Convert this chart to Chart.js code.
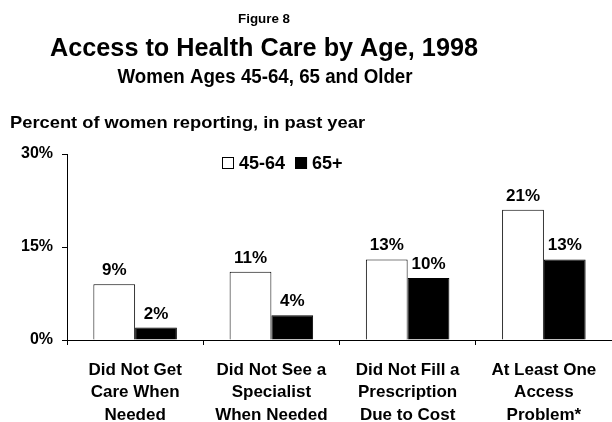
<!DOCTYPE html>
<html>
<head>
<meta charset="utf-8">
<script src="https://cdn.jsdelivr.net/npm/chart.js@4/dist/chart.umd.min.js"></script>
<style>
  html, body { margin: 0; padding: 0; background: #fff; }
  #wrap { width: 612px; height: 422px; position: relative; }
</style>
</head>
<body>
<div id="wrap"><canvas id="chart" width="612" height="422"></canvas></div>
<script>
// Access to health care by age group
const categories = [
    ['Did Not Get', 'Care When', 'Needed'],
    ['Did Not See a', 'Specialist', 'When Needed'],
    ['Did Not Fill a', 'Prescription', 'Due to Cost'],
    ['At Least One', 'Access', 'Problem*']
];
const seriesLabels = ['45-64', '65+'];
const ages45to64 = [9, 11, 13, 21];
const ages65plus = [2, 4, 10, 13];
const yTicks = [0, 15, 30];

const FONT = '"Liberation Sans", Arial, sans-serif';

// draw text squeezed horizontally to a set width (condensed look)
function fitText(ctx, text, cx, y, size, width, align) {
    ctx.font = 'bold ' + size + 'px ' + FONT;
    const w = ctx.measureText(text).width;
    const k = width / w;
    ctx.save();
    ctx.translate(cx, y);
    ctx.scale(k, 1);
    ctx.textAlign = align || 'center';
    ctx.fillText(text, 0, 0);
    ctx.restore();
}

// Header text and the axis note above the plot
const headerPlugin = {
    id: 'header',
    afterDraw(chart) {
        const ctx = chart.ctx;
        ctx.save();
        ctx.fillStyle = '#000';
        ctx.textBaseline = 'alphabetic';
        fitText(ctx, 'Figure 8', 264, 23, 13, 52);
        fitText(ctx, 'Access to Health Care by Age, 1998', 264, 56, 25, 428);
        fitText(ctx, 'Women Ages 45-64, 65 and Older', 265, 83, 20, 295);
        fitText(ctx, 'Percent of women reporting, in past year', 10, 128, 17, 355, 'left');
        ctx.restore();
    }
};

// Legend row drawn from the dataset styles
const legendPlugin = {
    id: 'boxLegend',
    afterDraw(chart) {
        const ctx = chart.ctx;
        ctx.save();
        ctx.font = 'bold 18px ' + FONT;
        ctx.textBaseline = 'middle';
        ctx.textAlign = 'left';
        let x = 222;
        const y = 163;
        chart.data.datasets.forEach(ds => {
            ctx.fillStyle = ds.backgroundColor;
            ctx.fillRect(x, y - 6, 12, 12);
            ctx.strokeStyle = '#000';
            ctx.lineWidth = 1;
            ctx.strokeRect(x + 0.5, y - 5.5, 11, 11);
            ctx.fillStyle = '#000';
            ctx.fillText(ds.label, x + 17, y + 1);
            x += 17 + ctx.measureText(ds.label).width + 10;
        });
        ctx.restore();
    }
};

// Percent labels above each bar
const valueLabelPlugin = {
    id: 'valueLabels',
    afterDatasetsDraw(chart) {
        const ctx = chart.ctx;
        ctx.save();
        ctx.font = 'bold 17px ' + FONT;
        ctx.fillStyle = '#000';
        ctx.textAlign = 'center';
        ctx.textBaseline = 'alphabetic';
        chart.data.datasets.forEach((ds, i) => {
            chart.getDatasetMeta(i).data.forEach((bar, j) => {
                ctx.fillText(ds.data[j] + '%', bar.x, bar.y - 9);
            });
        });
        ctx.restore();
    }
};

new Chart(document.getElementById('chart'), {
    type: 'bar',
    data: {
        labels: categories,
        datasets: [
            {
                label: seriesLabels[0],
                data: ages45to64,
                backgroundColor: '#ffffff',
                borderColor: '#000000',
                borderWidth: 1,
                borderSkipped: 'bottom'
            },
            {
                label: seriesLabels[1],
                data: ages65plus,
                backgroundColor: '#000000',
                borderColor: '#000000',
                borderWidth: 1,
                borderSkipped: 'bottom'
            }
        ]
    },
    options: {
        responsive: false,
        animation: false,
        devicePixelRatio: 1,
        layout: { padding: { top: 154, right: 0, left: 0, bottom: 0 } },
        categoryPercentage: 0.613,
        barPercentage: 1,
        plugins: {
            legend: { display: false },
            title: { display: false },
            tooltip: { enabled: false }
        },
        scales: {
            x: {
                afterFit(scale) { scale.height = 82; },
                border: { color: '#000', width: 1 },
                grid: { drawOnChartArea: false, color: '#000', tickLength: 5, offset: true },
                ticks: {
                    color: '#000',
                    font: { family: FONT, size: 17, weight: 'bold', lineHeight: 1.32 },
                    padding: 14,
                    maxRotation: 0,
                    autoSkip: false
                }
            },
            y: {
                min: 0,
                max: 30,
                afterFit(scale) { scale.width = 67; },
                afterBuildTicks(scale) { scale.ticks = yTicks.map(v => ({ value: v })); },
                border: { color: '#000', width: 1 },
                grid: { drawOnChartArea: false, color: '#000', tickLength: 5 },
                ticks: {
                    color: '#000',
                    font: { family: FONT, size: 16, weight: 'bold' },
                    padding: 9,
                    callback: v => v + '%'
                }
            }
        }
    },
    plugins: [headerPlugin, legendPlugin, valueLabelPlugin]
});
</script>
</body>
</html>
